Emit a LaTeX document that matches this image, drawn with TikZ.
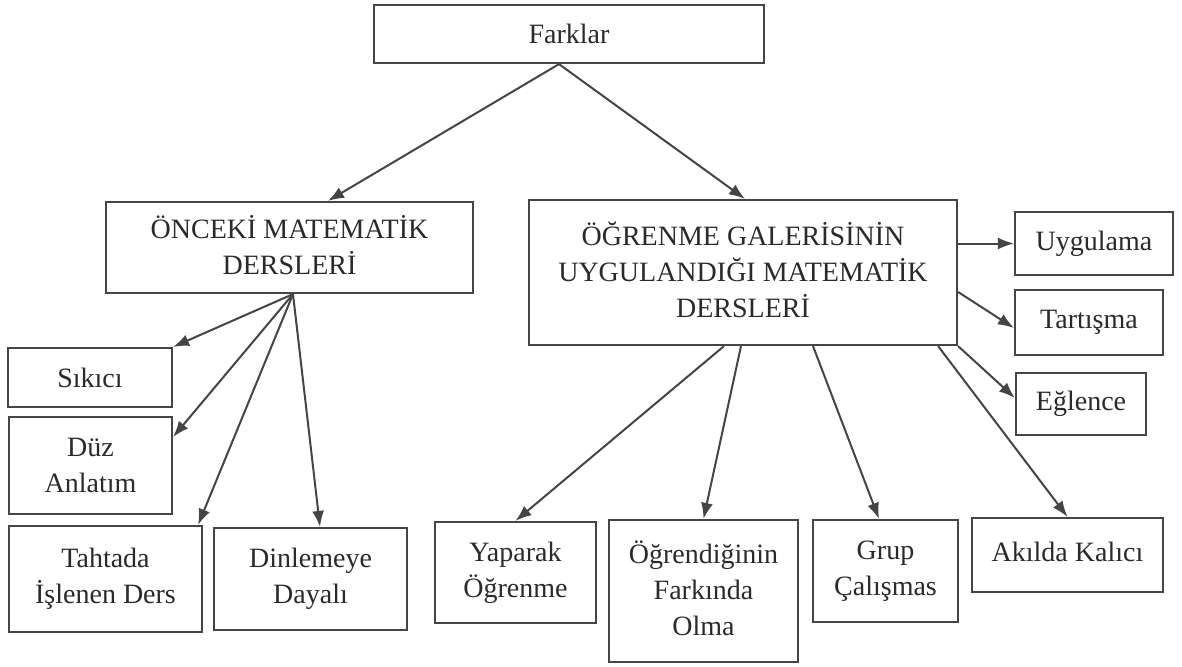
\documentclass[tikz,border=0pt]{standalone}
\usepackage{fontspec}
\setmainfont{Liberation Serif}
\usetikzlibrary{arrows.meta,calc}
\definecolor{ln}{HTML}{454545}
\definecolor{tx}{HTML}{2A2A2A}
\begin{document}
\begin{tikzpicture}[x=1pt,y=-1pt,
  box/.style={draw=ln,line width=2.2pt,rectangle,inner sep=0pt,align=center,
    text=tx,font=\fontsize{28}{36}\selectfont},
  conn/.style={draw=ln,line width=2pt,-{Latex[length=16pt,width=12pt]}}]
\useasboundingbox (0,0) rectangle (1182,666);
\fill[white] (0,0) rectangle (1182,666);
% top
\node[box,minimum width=390pt,minimum height=58pt] (farklar) at (569,34) {Farklar};
\node[box,minimum width=367pt,minimum height=91pt] (onceki) at (289.5,247.5) {ÖNCEKİ MATEMATİK\\DERSLERİ\vphantom{p}};
\node[box,minimum width=428pt,minimum height=145pt] (ogrenme) at (743,272.5) {ÖĞRENME GALERİSİNİN\\UYGULANDIĞI MATEMATİK\\DERSLERİ\vphantom{p}};
% left children
\node[box,minimum width=164pt,minimum height=59pt] (sikici) at (90,377.5) {Sıkıcı};
\node[box,minimum width=163pt,minimum height=97pt] (duz) at (90.5,465.5) {Düz\\Anlatım};
\node[box,minimum width=193pt,minimum height=106pt] (tahtada) at (105.5,579) {Tahtada\\İşlenen Ders\vphantom{p}};
\node[box,minimum width=193pt,minimum height=102pt] (dinlemeye) at (310.5,579) {Dinlemeye\\Dayalı};
% right children
\node[box,minimum width=158pt,minimum height=63pt] (uygulama) at (1094,243.5) {Uygulama};
\node[box,minimum width=148pt,minimum height=65pt] (tartisma) at (1089,322.5) {Tartışma};
\node[box,minimum width=130pt,minimum height=62pt] (eglence) at (1081,404) {Eğlence};
\node[box,minimum width=161pt,minimum height=101pt] (yaparak) at (515.5,572.5) {Yaparak\\Öğrenme};
\node[box,minimum width=189pt,minimum height=142pt] (ogrendiginin) at (703.5,591) {Öğrendiğinin\\Farkında\\Olma\vphantom{p}};
\node[box,minimum width=145pt,minimum height=102pt] (grup) at (885.5,571) {Grup\\Çalışmas};
\node[box,minimum width=191pt,minimum height=74pt] (akilda) at (1067.5,555) {Akılda Kalıcı\vphantom{p}};
% connectors
\draw[conn] ([xshift=-10pt]farklar.south) -- ([xshift=38.5pt]onceki.north);
\draw[conn] ([xshift=-10pt]farklar.south) -- ([xshift=2pt]ogrenme.north);
\coordinate (os) at ([xshift=3.5pt]onceki.south);
\draw[conn] (os) -- (sikici.north east);
\draw[conn] (os) -- ([yshift=28.5pt]duz.east);
\draw[conn] (os) -- ([xshift=-5pt]tahtada.north east);
\draw[conn] (os) -- ([xshift=9.5pt]dinlemeye.north);
\draw[conn] (ogrenme.east |- uygulama.west) -- (uygulama.west);
\draw[conn] ([yshift=-19.5pt]ogrenme.east) -- ([yshift=-5.5pt]tartisma.west);
\draw[conn] (ogrenme.south east) -- ([yshift=6pt]eglence.west);
\draw[conn] ([xshift=-20pt]ogrenme.south east) -- (akilda.north);
\draw[conn] ([xshift=-19pt]ogrenme.south) -- (yaparak.north);
\draw[conn] ([xshift=-2pt]ogrenme.south) -- (ogrendiginin.north);
\draw[conn] ([xshift=70pt]ogrenme.south) -- ([xshift=-6.5pt]grup.north);
\end{tikzpicture}
\end{document}
